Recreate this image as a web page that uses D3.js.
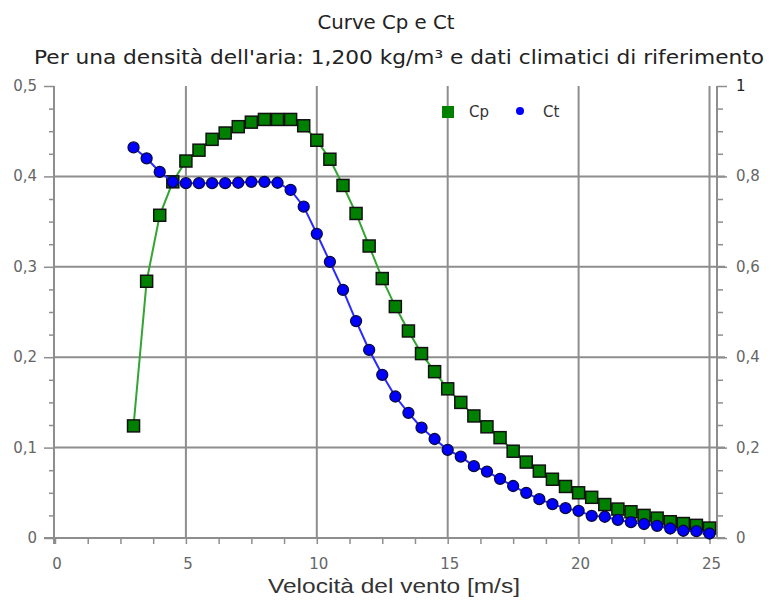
<!DOCTYPE html>
<html>
<head>
<meta charset="utf-8">
<script src="https://cdn.jsdelivr.net/npm/d3@7"></script>
<style>
  body { margin: 0; background: #fff; }
  svg { display: block; font-family: "DejaVu Sans", sans-serif; }
</style>
</head>
<body>
<div id="chart"></div>
<script>
// wind speeds (m/s)
var speeds = [3, 3.5, 4, 4.5, 5, 5.5, 6, 6.5, 7, 7.5, 8, 8.5, 9, 9.5, 10, 10.5, 11, 11.5, 12, 12.5,
  13, 13.5, 14, 14.5, 15, 15.5, 16, 16.5, 17, 17.5, 18, 18.5, 19, 19.5, 20, 20.5, 21, 21.5, 22, 22.5,
  23, 23.5, 24, 24.5, 25];

// power coefficient (left axis)
var cp = [0.124, 0.284, 0.357, 0.394, 0.417, 0.429, 0.441, 0.448, 0.455, 0.460, 0.463, 0.463, 0.463, 0.456, 0.440,
  0.419, 0.390, 0.359, 0.323, 0.287, 0.256, 0.229, 0.204, 0.184, 0.165, 0.150, 0.135, 0.123, 0.111, 0.096,
  0.084, 0.074, 0.065, 0.057, 0.050, 0.045, 0.037, 0.032, 0.029, 0.025, 0.022, 0.018, 0.016, 0.014, 0.011];

// thrust coefficient (right axis)
var ct = [0.864, 0.840, 0.810, 0.788, 0.785, 0.785, 0.785, 0.785, 0.786, 0.788, 0.788, 0.786, 0.770, 0.733, 0.673,
  0.611, 0.549, 0.480, 0.416, 0.361, 0.313, 0.277, 0.244, 0.219, 0.195, 0.180, 0.159, 0.147, 0.131, 0.115,
  0.100, 0.086, 0.075, 0.066, 0.060, 0.049, 0.047, 0.040, 0.035, 0.031, 0.027, 0.021, 0.016, 0.015, 0.010];

var xTicks = [0, 5, 10, 15, 20, 25];
var leftTicks = [0, 0.1, 0.2, 0.3, 0.4, 0.5];
var rightTicks = [0, 0.2, 0.4, 0.6, 0.8, 1];

var width = 771,
    height = 607;

var plot = { left: 54, right: 717, top: 86, bottom: 538 };

var it = d3.formatLocale({ decimal: ",", thousands: ".", grouping: [3], currency: ["", "€"] });
var fmt = function(d) { return d === 0 ? "0" : it.format("~g")(d); };

var x = d3.scaleLinear()
  .domain([0, 25])
  .range([55, 709.5]);

var yLeft = d3.scaleLinear()
  .domain([0, 0.5])
  .range([plot.bottom, plot.top]);

var yRight = d3.scaleLinear()
  .domain([0, 1])
  .range([plot.bottom, plot.top]);

var svg = d3.select("#chart").append("svg")
  .attr("width", width)
  .attr("height", height);

var gridColor = "#8e8e8e";

// grid lines
svg.append("g")
  .selectAll("line")
  .data(xTicks.slice(1))
  .enter().append("line")
  .attr("x1", function(d) { return x(d); })
  .attr("x2", function(d) { return x(d); })
  .attr("y1", plot.top)
  .attr("y2", plot.bottom)
  .attr("stroke", gridColor)
  .attr("stroke-width", 2);

svg.append("g")
  .selectAll("line")
  .data(leftTicks.slice(1, 5))
  .enter().append("line")
  .attr("x1", plot.left)
  .attr("x2", plot.right + 8)
  .attr("y1", function(d) { return yLeft(d); })
  .attr("y2", function(d) { return yLeft(d); })
  .attr("stroke", gridColor)
  .attr("stroke-width", 2);

// axes
var bottomAxis = svg.append("g")
  .attr("transform", "translate(0," + plot.bottom + ")")
  .call(d3.axisBottom(x).tickValues(d3.range(0, 25.01, 1.25)).tickSize(6).tickFormat(""));
bottomAxis.selectAll(".tick line").attr("stroke", gridColor).attr("stroke-width", 1.5);
bottomAxis.select(".domain").remove();

svg.append("line")
  .attr("x1", plot.left - 10).attr("x2", plot.right + 8)
  .attr("y1", plot.bottom).attr("y2", plot.bottom)
  .attr("stroke", gridColor).attr("stroke-width", 2);

svg.append("g")
  .selectAll("text")
  .data(xTicks)
  .enter().append("text")
  .attr("x", function(d) { return x(d) + 2; })
  .attr("y", 569)
  .attr("text-anchor", "middle")
  .attr("fill", "#666")
  .attr("font-size", 15)
  .text(function(d) { return d; });

var leftAxis = svg.append("g")
  .attr("transform", "translate(" + plot.left + ",0)")
  .call(d3.axisLeft(yLeft).tickValues(d3.range(0, 0.5001, 0.025)).tickSize(5).tickFormat(""));
leftAxis.select(".domain").remove();
leftAxis.selectAll(".tick line")
  .attr("stroke", gridColor).attr("stroke-width", 1.5)
  .attr("x2", function(d) { return Math.abs(d * 10 - Math.round(d * 10)) < 1e-6 ? -10 : -5; });

svg.append("line")
  .attr("x1", plot.left).attr("x2", plot.left)
  .attr("y1", plot.top).attr("y2", plot.bottom + 6)
  .attr("stroke", gridColor).attr("stroke-width", 2);

svg.append("g")
  .selectAll("text")
  .data(leftTicks)
  .enter().append("text")
  .attr("x", 37)
  .attr("y", function(d) { return yLeft(d) + 5; })
  .attr("text-anchor", "end")
  .attr("fill", "#666")
  .attr("font-size", 15)
  .text(fmt);

var rightAxis = svg.append("g")
  .attr("transform", "translate(" + plot.right + ",0)")
  .call(d3.axisRight(yRight).tickValues(d3.range(0, 1.0001, 0.05)).tickSize(5).tickFormat(""));
rightAxis.select(".domain").remove();
rightAxis.selectAll(".tick line")
  .attr("stroke", gridColor).attr("stroke-width", 1.5)
  .attr("x2", function(d) { return Math.abs(d * 5 - Math.round(d * 5)) < 1e-6 ? 10 : 6; });

svg.append("line")
  .attr("x1", plot.right).attr("x2", plot.right)
  .attr("y1", plot.top).attr("y2", plot.bottom)
  .attr("stroke", gridColor).attr("stroke-width", 2);

svg.append("g")
  .selectAll("text")
  .data(rightTicks)
  .enter().append("text")
  .attr("x", 736)
  .attr("y", function(d) { return yRight(d) + 5; })
  .attr("text-anchor", "start")
  .attr("fill", function(d) { return d === 1 ? "#222" : "#666"; })
  .attr("font-size", 15)
  .text(fmt);

// series
var cpLine = d3.line()
  .x(function(d, i) { return x(speeds[i]); })
  .y(function(d) { return yLeft(d); });

var ctLine = d3.line()
  .x(function(d, i) { return x(speeds[i]); })
  .y(function(d) { return yRight(d); });

svg.append("path")
  .datum(cp)
  .attr("d", cpLine)
  .attr("fill", "none")
  .attr("stroke", "#33a532")
  .attr("stroke-width", 2);

svg.append("g")
  .selectAll("rect")
  .data(cp)
  .enter().append("rect")
  .attr("x", function(d, i) { return x(speeds[i]) - 6; })
  .attr("y", function(d) { return yLeft(d) - 6; })
  .attr("width", 12)
  .attr("height", 12)
  .attr("fill", "#008000")
  .attr("stroke", "#111")
  .attr("stroke-width", 1.5);

svg.append("path")
  .datum(ct)
  .attr("d", ctLine)
  .attr("fill", "none")
  .attr("stroke", "#2a2aff")
  .attr("stroke-width", 2);

svg.append("g")
  .selectAll("circle")
  .data(ct)
  .enter().append("circle")
  .attr("cx", function(d, i) { return x(speeds[i]); })
  .attr("cy", function(d) { return yRight(d); })
  .attr("r", 5.5)
  .attr("fill", "#0000ff")
  .attr("stroke", "#0a0a40")
  .attr("stroke-width", 1.3);

// legend
svg.append("rect")
  .attr("x", 442).attr("y", 106).attr("width", 12).attr("height", 12)
  .attr("fill", "#008000");
svg.append("text")
  .attr("x", 469).attr("y", 117)
  .attr("font-size", 15).attr("fill", "#333")
  .text("Cp");
svg.append("circle")
  .attr("cx", 520).attr("cy", 111).attr("r", 4)
  .attr("fill", "#0000ff");
svg.append("text")
  .attr("x", 543).attr("y", 117)
  .attr("font-size", 15).attr("fill", "#333")
  .text("Ct");

// titles
svg.append("text")
  .attr("x", 386).attr("y", 29)
  .attr("text-anchor", "middle")
  .attr("font-size", 19).attr("fill", "#222")
  .attr("textLength", 137)
  .attr("lengthAdjust", "spacingAndGlyphs")
  .text("Curve Cp e Ct");

svg.append("text")
  .attr("x", 399).attr("y", 64)
  .attr("text-anchor", "middle")
  .attr("font-size", 19).attr("fill", "#222")
  .attr("textLength", 730)
  .attr("lengthAdjust", "spacingAndGlyphs")
  .text("Per una densità dell'aria: 1,200 kg/m³ e dati climatici di riferimento");

svg.append("text")
  .attr("x", 394).attr("y", 593)
  .attr("text-anchor", "middle")
  .attr("font-family", "'Liberation Sans', Arial, sans-serif")
  .attr("font-size", 21).attr("fill", "#333")
  .attr("textLength", 252)
  .attr("lengthAdjust", "spacingAndGlyphs")
  .text("Velocità del vento [m/s]");
</script>
</body>
</html>
